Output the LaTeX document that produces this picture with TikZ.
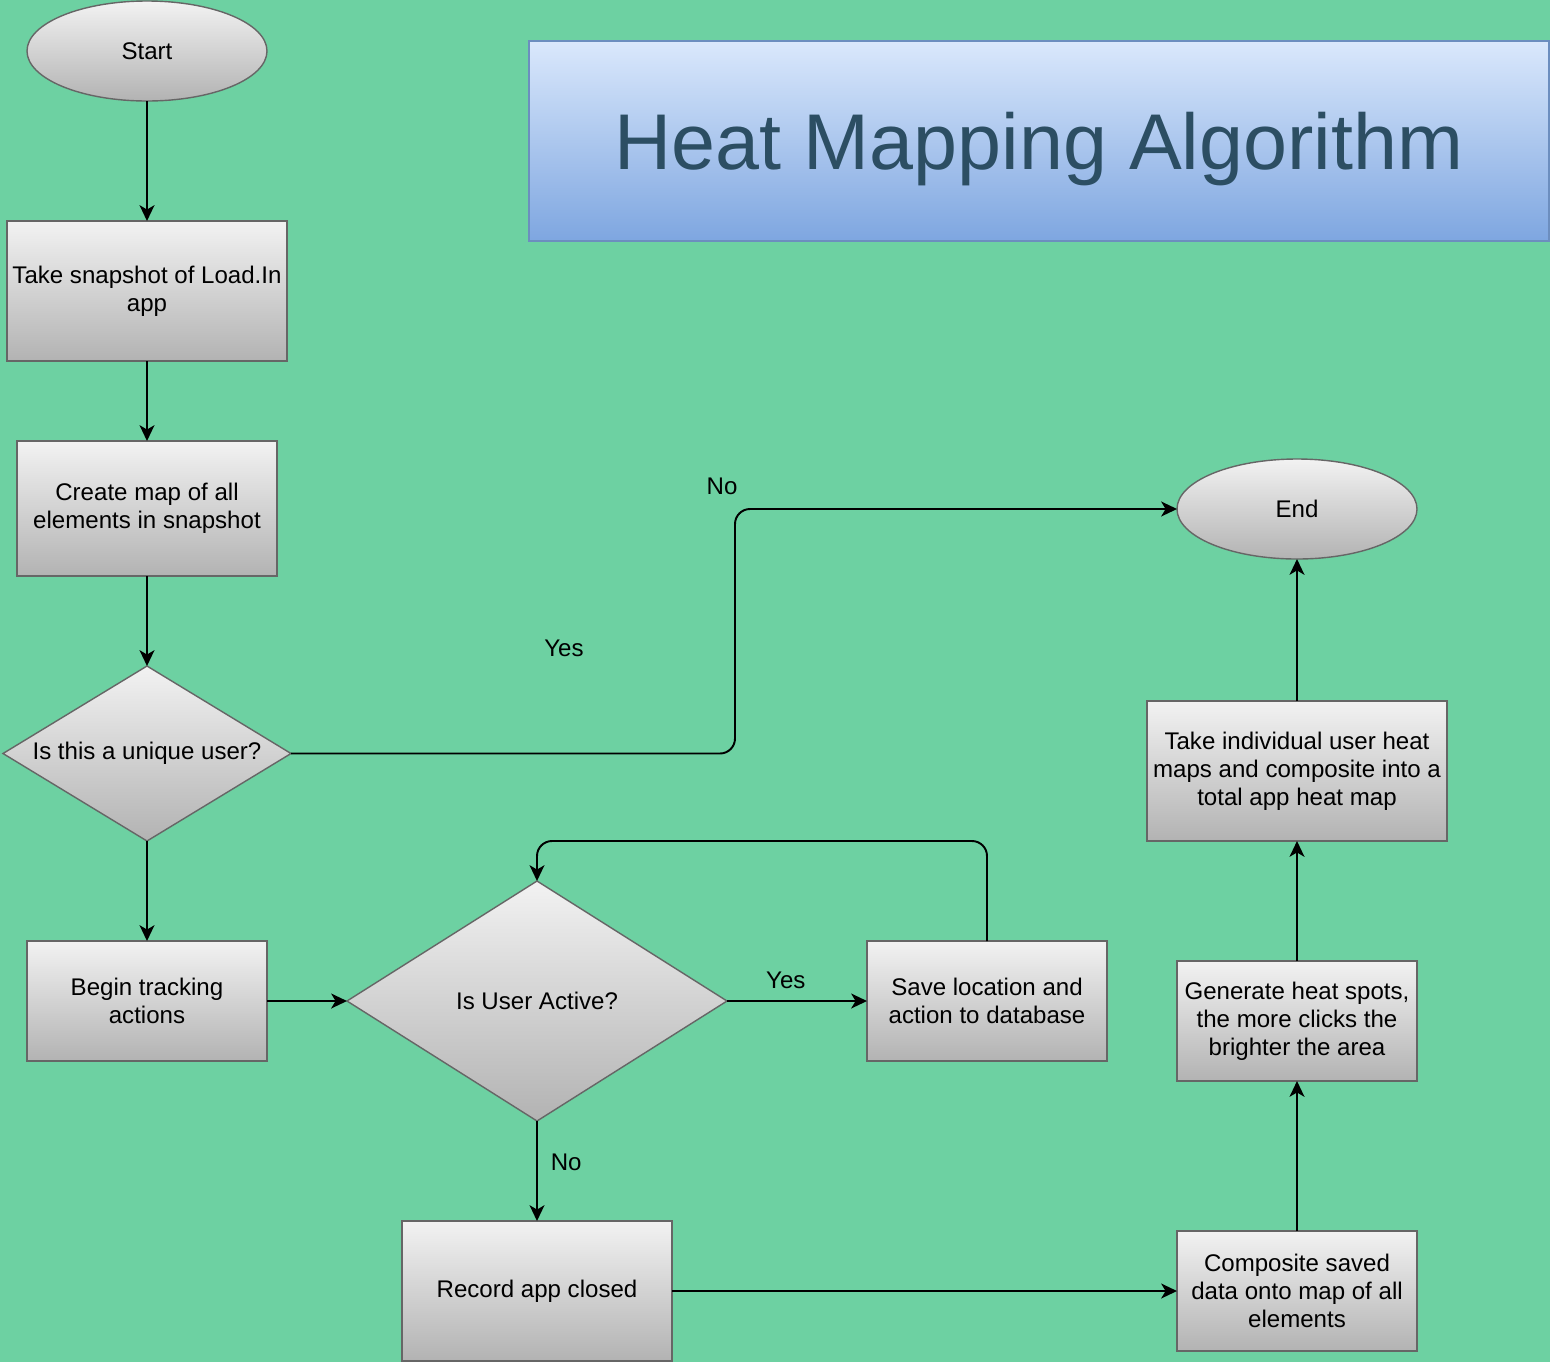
\documentclass[tikz,border=0pt]{standalone}
\usepackage{fontspec}
\setmainfont{Liberation Sans}
\usepackage{xcolor}
\usepackage{tikz}
\usetikzlibrary{shapes.geometric,arrows.meta,positioning}
\definecolor{sheetgreen}{RGB}{109,209,162}
\definecolor{boxline}{RGB}{102,102,102}
\definecolor{titletop}{RGB}{218,232,252}
\definecolor{titlebot}{RGB}{126,166,224}
\definecolor{titleline}{RGB}{108,142,191}
\definecolor{titletext}{RGB}{44,78,99}
\tikzset{>={Stealth[length=9pt,width=8.5pt,inset=2.5pt]}}
\tikzset{box node/.style={rectangle,draw=boxline,line width=0.8pt,top color=gray!10,bottom color=gray!60,align=center,inner sep=2pt,outer sep=0pt},
         term node/.style={ellipse,draw=boxline,line width=0.8pt,top color=gray!10,bottom color=gray!60,minimum width=4.8cm,minimum height=2cm,inner sep=0pt,outer sep=0pt},
         decision node/.style={diamond,draw=boxline,line width=0.8pt,top color=gray!10,bottom color=gray!60,inner sep=0pt,outer sep=0pt},
         title node/.style={rectangle,draw=titleline,line width=0.8pt,top color=titletop,bottom color=titlebot,text=titletext,text depth=0pt,font=\fontsize{45}{54}\selectfont},
            }

\begin{document}
\begin{tikzpicture}[font=\fontsize{13.7}{15.9}\selectfont]

    \path[use as bounding box,fill=sheetgreen] (0,0) rectangle (31,-27.24);

    \node[title node,minimum width=20.4cm,minimum height=4cm] (title) at (20.78,-2.82) {Heat Mapping Algorithm};

    \node[term node] (start) at (2.94,-1.02) {Start};
    \node[box node,minimum width=5.6cm,minimum height=2.8cm] (snap) [below=2.4cm of start] {Take snapshot of Load.In\\app};
    \node[box node,minimum width=5.2cm,minimum height=2.7cm] (map) [below=1.6cm of snap] {Create map of all\\elements in snapshot};
    \node[decision node,minimum width=5.76cm,minimum height=3.5cm,label={center:Is this a unique user?}] (unique) [below=1.8cm of map] {};
    \node[box node,minimum width=4.8cm,minimum height=2.4cm] (track) [below=2cm of unique] {Begin tracking\\actions};
    \node[decision node,minimum width=7.6cm,minimum height=4.8cm,label={center:Is User Active?}] (active) [right=1.6cm of track] {};
    \node[box node,minimum width=4.8cm,minimum height=2.4cm] (save) [right=2.8cm of active] {Save location and\\action to database};
    \node[box node,minimum width=5.4cm,minimum height=2.8cm] (closed) [below=2cm of active] {Record app closed};
    \node[box node,minimum width=4.8cm,minimum height=2.4cm] (comp) [right=10.1cm of closed] {Composite saved\\data onto map of all\\elements};
    \node[box node,minimum width=4.8cm,minimum height=2.4cm] (spots) [above=3cm of comp] {Generate heat spots,\\the more clicks the\\brighter the area};
    \node[box node,minimum width=6cm,minimum height=2.8cm] (total) [above=2.4cm of spots] {Take individual user heat\\maps and composite into a\\total app heat map};
    \node[term node] (end) [above=2.84cm of total] {End};

    \node (nolabel) at (14.44,-9.72) {No};
    \node (yeslabel) at (11.28,-12.96) {Yes};
    \coordinate (nobend) at (14.7,-12);
    \coordinate (loopback) at (15.2,-16.82);

    \path[draw,line width=1.1pt,->]
    (start) edge node {} (snap)
    (snap) edge node {} (map)
    (map) edge node {} (unique)
    (unique) edge node {} (track)
    (track) edge node {} (active)
    (active) edge node[above=3pt,pos=0.42] {Yes} (save)
    (active) edge node[right=4pt,pos=0.41] {No} (closed)
    (closed) edge node {} (comp)
    (comp) edge node {} (spots)
    (spots) edge node {} (total)
    (total) edge node {} (end);

    \draw[line width=1.1pt,->,rounded corners=0.3cm] (unique.east) -| (nobend) |- (end.west);
    \draw[line width=1.1pt,->,rounded corners=0.3cm] (save.north) |- (loopback) -| (active.north);

\end{tikzpicture}
\end{document}
